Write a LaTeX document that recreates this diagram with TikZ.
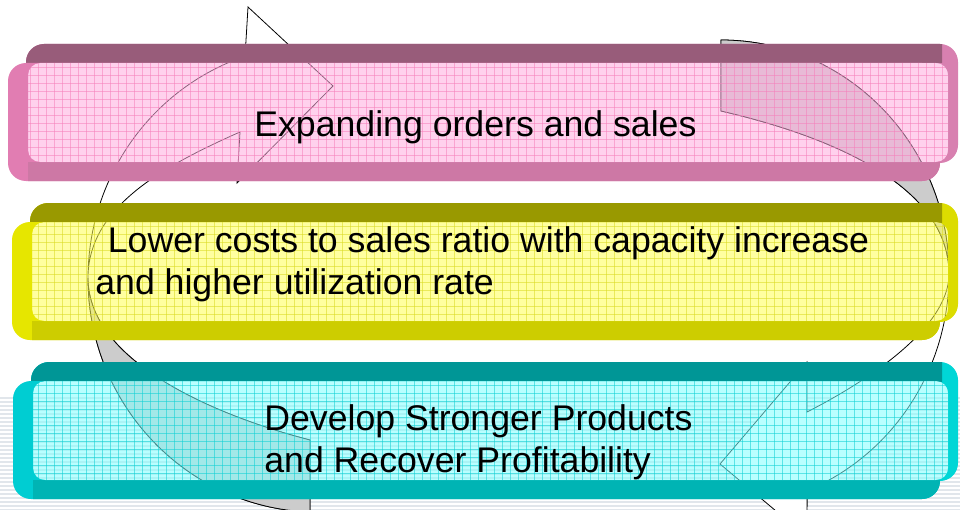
\documentclass[tikz,border=0pt]{standalone}
\usepackage{fontspec}
\setmainfont{Liberation Sans}
\definecolor{ArrowGray}{HTML}{CCCCCC}
\definecolor{StripeGray}{HTML}{E1E6EB}
\definecolor{PinkTop}{HTML}{985C7A}
\definecolor{PinkSide}{HTML}{D880B0}
\definecolor{PinkEdge}{HTML}{E17DB2}
\definecolor{PinkBase}{HTML}{CD78A5}
\definecolor{PinkFace}{HTML}{FFADE0}
\definecolor{PinkGrid}{HTML}{F680BB}
\definecolor{LimeTop}{HTML}{999900}
\definecolor{LimeSide}{HTML}{DCDC00}
\definecolor{LimeEdge}{HTML}{E6E600}
\definecolor{LimeBase}{HTML}{CDCD00}
\definecolor{LimeFace}{HTML}{FFFF52}
\definecolor{LimeGrid}{HTML}{DADA21}
\definecolor{TealTop}{HTML}{009696}
\definecolor{TealSide}{HTML}{00D6D6}
\definecolor{TealEdge}{HTML}{00CDD2}
\definecolor{TealBase}{HTML}{00B4B4}
\definecolor{TealFace}{HTML}{80FFFF}
\definecolor{TealGrid}{HTML}{0DD1D5}

\begin{document}
\begin{tikzpicture}[x=0.02cm, y=-0.02cm,
  every node/.style={font=\fontsize{20.3}{23.8}\selectfont, inner sep=0pt,
    anchor=north west, align=left},
  cyclearrow/.style={draw=black, line width=0.45pt, fill=white},
  underside/.style={draw=black, line width=0.45pt, fill=ArrowGray},
  stripe/.style={draw=StripeGray, line width=0.04cm}]
  \useasboundingbox (0,0) rectangle (960,510);
  \fill[white] (0,0) rectangle (960,510);
  \foreach \s in {398,402,...,510} \draw[stripe] (0,\s) -- (960,\s);

  % left arrow, up the left side with its head at the top
  \path[cyclearrow] (310,512) arc[start angle=92, end angle=251.5, x radius=230, y radius=234]
    -- (248,7) -- (333,86) -- (237,183) -- (240,132)
    .. controls (161,167) and (88,208) .. (88,278)
    .. controls (88,363) and (220,417) .. (310,440) -- cycle;
  \path[underside] (310,512) arc[start angle=92, end angle=180, x radius=230, y radius=234]
    .. controls (88,363) and (220,417) .. (310,440) -- cycle;

  % right arrow, down the right side with its head at the bottom
  \path[cyclearrow] (721,40) arc[start angle=-90, end angle=67.8, x radius=228, y radius=234]
    -- (807,537) -- (720,464) -- (807,362) -- (807,412)
    .. controls (860,385) and (949,330) .. (949,274)
    .. controls (949,182) and (821,134) .. (721,111) -- cycle;
  \path[underside] (721,40) arc[start angle=-90, end angle=0, x radius=228, y radius=234]
    .. controls (949,182) and (821,134) .. (721,111) -- cycle;

  % bars: back slab, top band, front slab, bottom band, see-through face
  \foreach \yo/\xo/\tone in {44/8/Pink,203/12/Lime,362/13/Teal} {
    \begin{scope}
      % everything but the face
      \clip[rounded corners=0.24cm] (0,\yo-5) -- (960,\yo-5) -- (960,\yo+145) -- (0,\yo+145) -- cycle
        (\xo+20,\yo+19) -- (\xo+20,\yo+118) -- (948,\yo+118) -- (948,\yo+19) -- cycle;
      \fill[fill=\tone Side, rounded corners=0.36cm] (\xo+18,\yo) rectangle (958,\yo+119);
      \begin{scope}
        \clip (0,\yo) rectangle (942,\yo+19);
        \fill[fill=\tone Top, rounded corners=0.36cm] (\xo+18,\yo) rectangle (958,\yo+119);
      \end{scope}
      \fill[fill=\tone Edge, rounded corners=0.36cm] (\xo,\yo+19) rectangle (940,\yo+137);
      \begin{scope}
        \clip (\xo+20,\yo+118) rectangle (960,\yo+140);
        \fill[fill=\tone Base, rounded corners=0.36cm] (\xo,\yo+19) rectangle (940,\yo+137);
      \end{scope}
    \end{scope}
    \fill[fill=\tone Face, opacity=0.55, rounded corners=0.24cm] (\xo+20,\yo+19) rectangle (948,\yo+118);
    \begin{scope}
      \clip[rounded corners=0.24cm] (\xo+20,\yo+19) rectangle (948,\yo+118);
      \foreach \gx in {30,38,...,950}
        \draw[draw=\tone Grid, opacity=0.55, line width=0.3pt] (\gx,\yo+19) -- (\gx,\yo+118);
      \foreach \gy in {4,12,...,100}
        \draw[draw=\tone Grid, opacity=0.55, line width=0.3pt] (0,\yo+19+\gy) -- (960,\yo+19+\gy);
    \end{scope}
  }

  \node (sales) [anchor=base west] at (254,136) {Expanding orders and sales};
  \node (costs) at (95,226)
  {\hspace*{0.25cm}Lower costs to sales ratio with capacity increase\\and higher utilization rate};
  \node (products) at (264,404) {Develop Stronger Products\\and Recover Profitability};
\end{tikzpicture}
\end{document}
